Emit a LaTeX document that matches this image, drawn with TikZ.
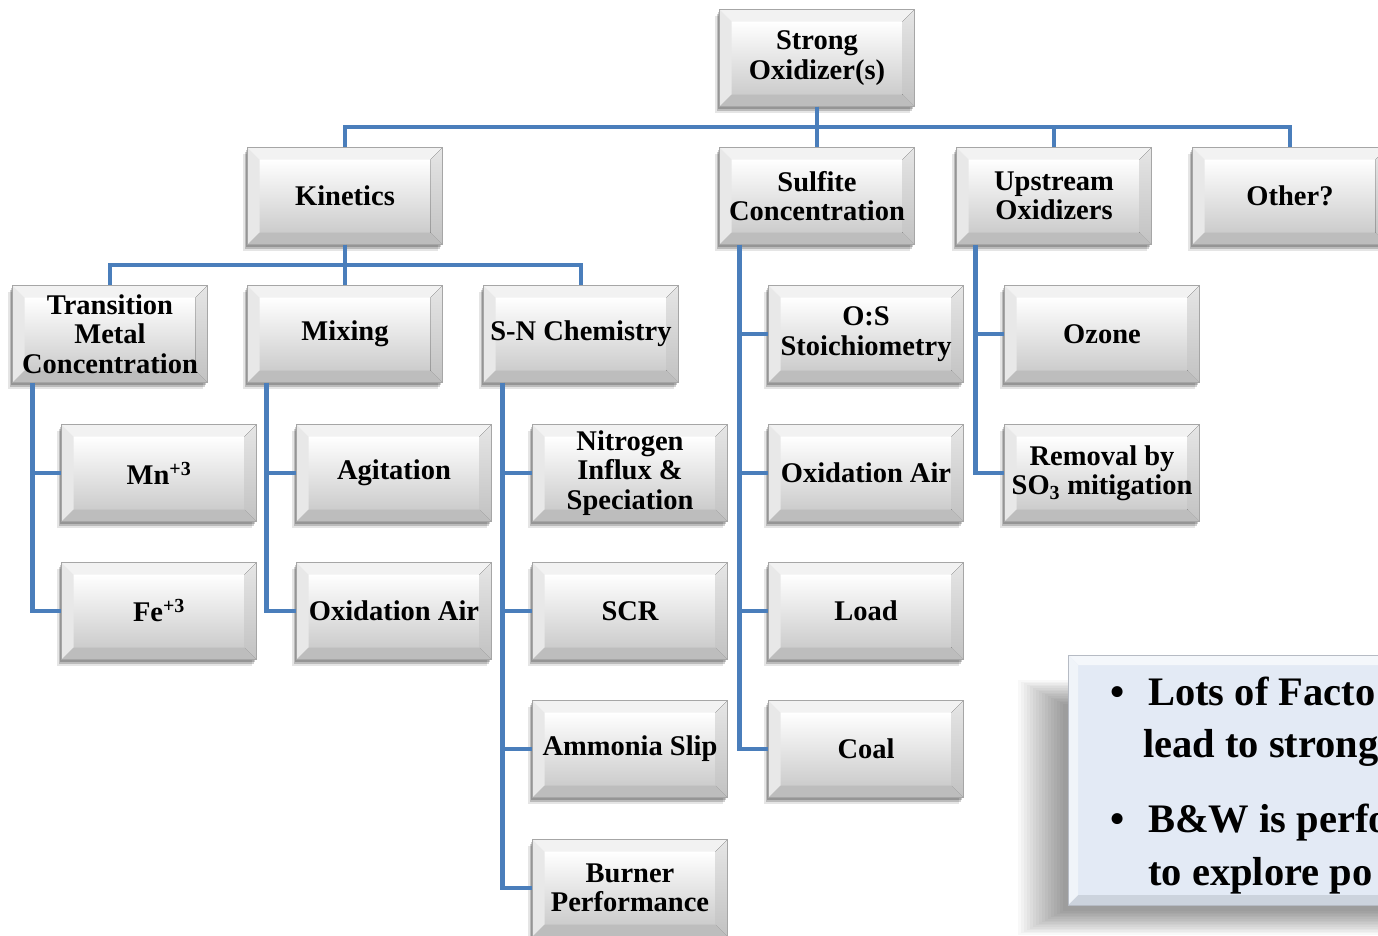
\documentclass[tikz,border=0pt]{standalone}
\usepackage{fontspec}
\setmainfont{Liberation Serif}
\usetikzlibrary{shadows,calc}
\definecolor{lnk}{HTML}{4A7EBB}
\definecolor{notefill}{HTML}{E3EAF5}
\tikzset{
  bevelpic/.style={path picture={
    \path (path picture bounding box.south west) coordinate (pSW)
          (path picture bounding box.north east) coordinate (pNE)
          (pSW |- pNE) coordinate (pNW)
          (pNE |- pSW) coordinate (pSE);
    \coordinate (iNW) at ($(pNW)+(12pt,-12pt)$);
    \coordinate (iNE) at ($(pNE)+(-12pt,-12pt)$);
    \coordinate (iSW) at ($(pSW)+(12pt,12pt)$);
    \coordinate (iSE) at ($(pSE)+(-12pt,12pt)$);
    \fill[top color=white, bottom color=black!16] (pSW) rectangle (pNE);
    \fill[top color=white, bottom color=black!20] (iNW) rectangle (iSE);
    \fill[black!5] (pNW) -- (pNE) -- (iNE) -- (iNW) -- cycle;
    \fill[black!9] (pNW) -- (iNW) -- (iSW) -- (pSW) -- cycle;
    \fill[top color=black!10, bottom color=black!24] (pNE) -- (pSE) -- (iSE) -- (iNE) -- cycle;
    \fill[black!26] (pSW) -- (iSW) -- (iSE) -- (pSE) -- cycle;
  }},
  bx/.style={bevelpic, minimum width=195pt, minimum height=97pt, inner sep=0pt,
    align=center, font=\bfseries\fontsize{28.5}{29.5}\selectfont,
    draw=black!35, line width=0.5pt,
    preaction={fill=black, opacity=0.10, transform canvas={shift={(-5pt,-6pt)}}},
    preaction={fill=black, opacity=0.18, transform canvas={shift={(-3pt,-4pt)}}},
    preaction={fill=black, opacity=0.20, transform canvas={shift={(-1.5pt,-2pt)}}}},
  link/.style={draw=lnk, line width=4.5pt},
  notebox/.style={minimum width=360pt, minimum height=250pt, inner sep=0pt,
    fill=notefill, draw=notefill!80!black, line width=0.4pt, anchor=north west,
    path picture={
      \path (path picture bounding box.south west) coordinate (nSW)
            (path picture bounding box.north east) coordinate (nNE)
            (nSW |- nNE) coordinate (nNW);
      \fill[notefill!40!white] (nNW) -- (nNE) -- ($(nNE)+(-10pt,-10pt)$) -- ($(nNW)+(10pt,-10pt)$) -- cycle;
      \fill[notefill!55!white] (nNW) -- ($(nNW)+(10pt,-10pt)$) -- ($(nSW)+(10pt,10pt)$) -- (nSW) -- cycle;
      \fill[notefill!90!black] (nSW) -- ($(nSW)+(10pt,10pt)$) -- ($(nSW)+(400pt,10pt)$) -- ($(nSW)+(400pt,0pt)$) -- cycle;
    }},
  notetxt/.style={inner sep=0pt, anchor=base west, font=\bfseries\fontsize{40.5}{52}\selectfont}
}
\begin{document}
\begin{tikzpicture}[x=1pt,y=-1pt]
\useasboundingbox (0,0) rectangle (1378,935);
\clip (0,0) rectangle (1378,935);
\fill[white] (0,0) rectangle (1378,935);

% soft shadow of the note box
\foreach \k in {0,...,15}
  \fill[black, opacity=0.028] ({1018+\k*3},{680+\k*1.6}) rectangle (1420,{935-\k*1.6});

% nodes
\node[bx] (strong) at (817,58) {Strong\\Oxidizer(s)};
\node[bx] (kin) at (345,196) {Kinetics};
\node[bx] (sulf) at (817,196) {Sulfite\\Concentration};
\node[bx] (up) at (1054,196) {Upstream\\Oxidizers};
\node[bx] (other) at (1290,196) {Other?};

\node[bx] (trans) at (110,334) {Transition\\Metal\\Concentration};
\node[bx] (mix) at (345,334) {Mixing};
\node[bx] (sn) at (581,334) {S-N Chemistry};
\node[bx] (os) at (866,334) {O:S\\Stoichiometry};
\node[bx] (ozone) at (1102,334) {Ozone};

\node[bx] (mn) at (159,473) {Mn\textsuperscript{+3}};
\node[bx] (agit) at (394,473) {Agitation};
\node[bx] (nitro) at (630,473) {Nitrogen\\Influx \&\\Speciation};
\node[bx] (oxairA) at (866,473) {Oxidation Air};
\node[bx] (removal) at (1102,473) {Removal by\\SO\textsubscript{3} mitigation};

\node[bx] (fe) at (159,611) {Fe\textsuperscript{+3}};
\node[bx] (oxairB) at (394,611) {Oxidation Air};
\node[bx] (scr) at (630,611) {SCR};
\node[bx] (load) at (866,611) {Load};

\node[bx] (amm) at (630,749) {Ammonia Slip};
\node[bx] (coal) at (866,749) {Coal};

\node[bx] (burner) at (630,888) {Burner\\Performance};

% connectors
\draw[link] (strong.south) -- ++(0,20) -| (kin.north);
\draw[link] (strong.south) -- (sulf.north);
\draw[link] (strong.south) -- ++(0,20) -| (up.north);
\draw[link] (strong.south) -- ++(0,20) -| (other.north);

\draw[link] (kin.south) -- ++(0,20) -| (trans.north);
\draw[link] (kin.south) -- (mix.north);
\draw[link] (kin.south) -- ++(0,20) -| (sn.north);

\draw[link] ([xshift=20pt]trans.south west) |- (mn.west);
\draw[link] ([xshift=20pt]trans.south west) |- (fe.west);
\draw[link] ([xshift=19pt]mix.south west) |- (agit.west);
\draw[link] ([xshift=19pt]mix.south west) |- (oxairB.west);
\draw[link] ([xshift=19pt]sn.south west) |- (nitro.west);
\draw[link] ([xshift=19pt]sn.south west) |- (scr.west);
\draw[link] ([xshift=19pt]sn.south west) |- (amm.west);
\draw[link] ([xshift=19pt]sn.south west) |- (burner.west);
\draw[link] ([xshift=20pt]sulf.south west) |- (os.west);
\draw[link] ([xshift=20pt]sulf.south west) |- (oxairA.west);
\draw[link] ([xshift=20pt]sulf.south west) |- (load.west);
\draw[link] ([xshift=20pt]sulf.south west) |- (coal.west);
\draw[link] ([xshift=19pt]up.south west) |- (ozone.west);
\draw[link] ([xshift=19pt]up.south west) |- (removal.west);

% note box
\node[notebox] (note) at (1068,655) {};
\node[notetxt] (bA) at (1110,705) {•};
\node[notetxt] (tA) at (1148,705) {Lots of Facto};
\node[notetxt] (tB) at (1143,757) {lead to strong};
\node[notetxt] (bB) at (1110,832) {•};
\node[notetxt] (tC) at (1148,832) {B\&W is perfo};
\node[notetxt] (tD) at (1148,885) {to explore po};
\end{tikzpicture}
\end{document}
